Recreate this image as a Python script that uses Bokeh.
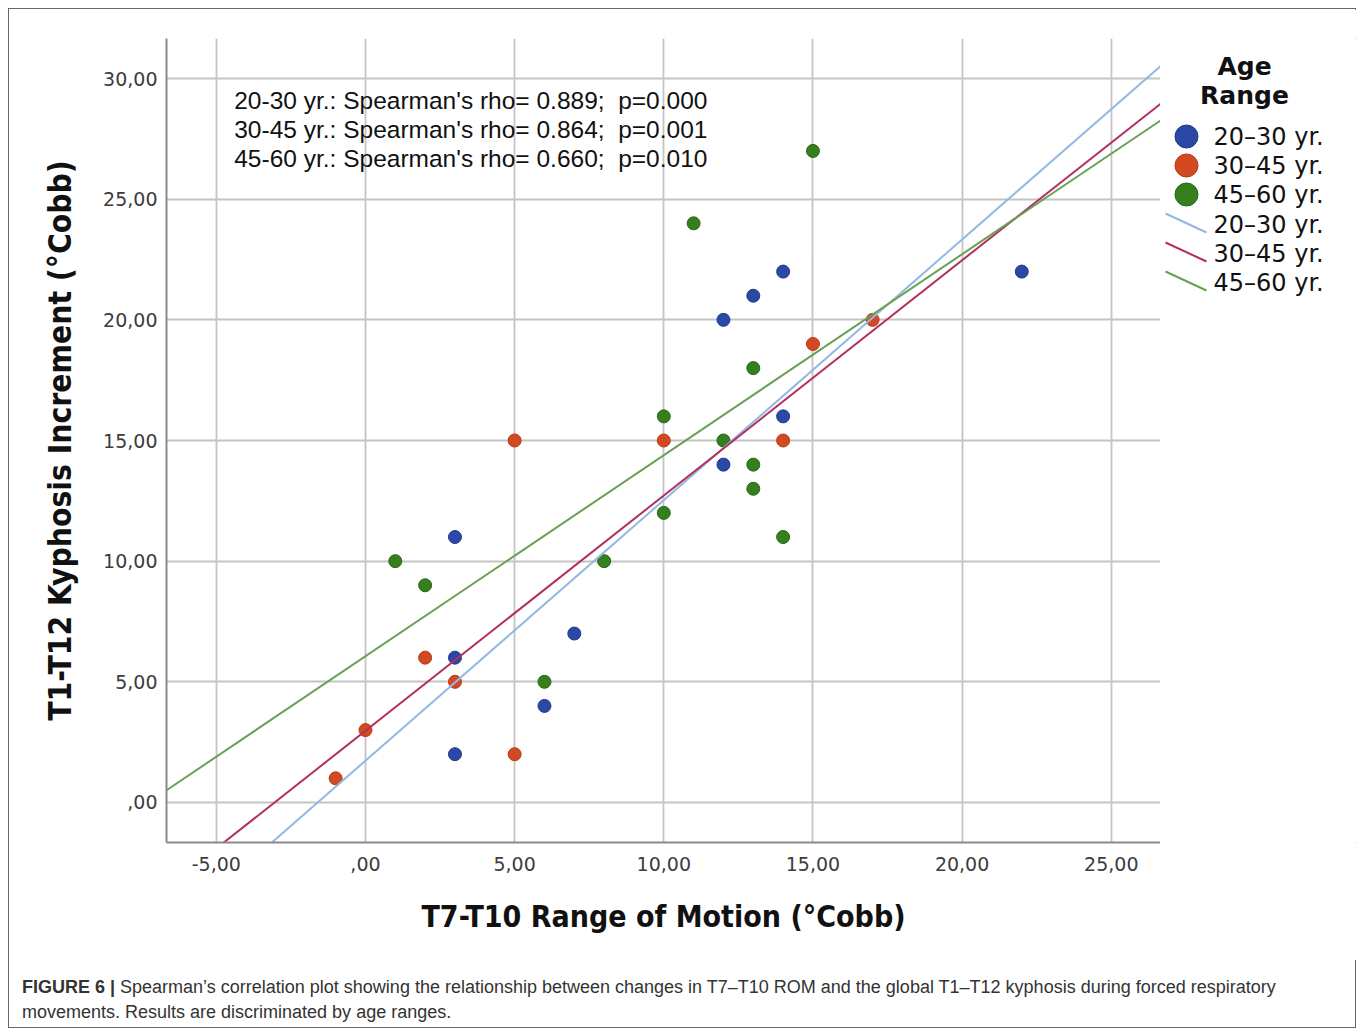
from bokeh.plotting import figure
from bokeh.models import FixedTicker, Range1d, Label, Div
from bokeh.layouts import column, row
from bokeh.core.properties import value
from bokeh.embed import file_html
from bokeh.resources import INLINE

# ---------------- data ----------------
groups = ["20-30 yr.", "30-45 yr.", "45-60 yr."]
legend_labels = ["20\u201330 yr.", "30\u201345 yr.", "45\u201360 yr."]

blue_x = [3, 3, 3, 6, 7, 12, 12, 13, 14, 14, 22]
blue_y = [11, 6, 2, 4, 7, 20, 14, 21, 22, 16, 22]
red_x = [-1, 0, 2, 3, 5, 5, 10, 14, 15, 17]
red_y = [1, 3, 6, 5, 15, 2, 15, 15, 19, 20]
green_x = [1, 2, 6, 8, 10, 10, 11, 12, 13, 13, 13, 14, 15]
green_y = [10, 9, 5, 10, 16, 12, 24, 15, 18, 14, 13, 11, 27]

fit_slope = [1.08, 0.975, 0.833]
fit_intercept = [1.73, 2.97, 6.06]

rho_values = ["0.889", "0.864", "0.660"]
p_values = ["0.000", "0.001", "0.010"]

x_ticks = [-5, 0, 5, 10, 15, 20, 25]
x_tick_labels = ["-5,00", ",00", "5,00", "10,00", "15,00", "20,00", "25,00"]
y_ticks = [0, 5, 10, 15, 20, 25, 30]
y_tick_labels = [",00", "5,00", "10,00", "15,00", "20,00", "25,00", "30,00"]

x_label = "T7-T10 Range of Motion (\u00b0Cobb)"
y_label = "T1-T12 Kyphosis Increment (\u00b0Cobb)"
caption_bold = "FIGURE 6 |"
caption_line1 = ("Spearman\u2019s correlation plot showing the relationship between changes in "
                 "T7\u2013T10 ROM and the global T1\u2013T12 kyphosis during forced respiratory")
caption_line2 = "movements. Results are discriminated by age ranges."

# ---------------- styles ----------------
point_fill = ["#2c48a6", "#d24a22", "#35801c"]
point_line = ["#22398a", "#b53a16", "#286616"]
fit_color = ["#93b8e3", "#b3305c", "#6aa052"]

X0, X1 = -6.67, 26.65
Y0, Y1 = -1.66, 31.66

p = figure(width=1151, height=951, x_range=Range1d(X0, X1), y_range=Range1d(Y0, Y1),
           output_backend="svg", toolbar_location=None,
           min_border_left=157, min_border_right=0, min_border_top=29, min_border_bottom=118)
p.outline_line_color = None
p.background_fill_color = "white"
p.border_fill_color = "white"

for ax, ticks, labels in ((p.xaxis[0], x_ticks, x_tick_labels), (p.yaxis[0], y_ticks, y_tick_labels)):
    ax.ticker = FixedTicker(ticks=ticks)
    ax.major_label_overrides = {t: l for t, l in zip(ticks, labels)}
    ax.major_tick_line_color = None
    ax.minor_tick_line_color = None
    ax.axis_line_color = "#8a8a8a"
    ax.axis_line_width = 2
    ax.major_label_text_font = "DejaVu Sans"
    ax.major_label_text_font_size = "19px"
    ax.major_label_text_color = "#3c3c3c"
    ax.axis_label_text_font = "DejaVu Sans Condensed"
    ax.axis_label_text_font_style = "bold"
    ax.axis_label_text_color = "#111111"

p.xaxis.axis_label = x_label
p.yaxis.axis_label = y_label
p.xaxis.axis_label_text_font_size = "30px"
p.yaxis.axis_label_text_font_size = "31.5px"
p.xaxis.major_label_standoff = 8
p.yaxis.major_label_standoff = 3
p.xaxis.axis_label_standoff = 25
p.yaxis.axis_label_standoff = 22

p.xgrid.ticker = FixedTicker(ticks=x_ticks)
p.ygrid.ticker = FixedTicker(ticks=y_ticks)
for g in (p.xgrid[0], p.ygrid[0]):
    g.grid_line_color = "#c4c4c4"
    g.grid_line_width = 1.8

series = [(blue_x, blue_y), (red_x, red_y), (green_x, green_y)]
for i, (xs, ys) in enumerate(series):
    p.scatter(xs, ys, size=13, fill_color=point_fill[i], line_color=point_line[i], line_width=1)

fit_x = [X0 - 2, X1 + 2]
for i in range(3):
    p.line(fit_x, [fit_intercept[i] + fit_slope[i] * x for x in fit_x],
           line_color=fit_color[i], line_width=2)

ann_y = [29.08, 27.9, 26.68]
for i in range(3):
    p.add_layout(Label(x=-4.4, y=ann_y[i],
                       text=f"{groups[i]}: Spearman's rho= {rho_values[i]};\u00a0 p={p_values[i]}",
                       text_font="Liberation Sans", text_font_size="24.5px",
                       text_color="#111111", text_baseline="middle"))

# ---------------- legend panel (page-pixel coordinates of the frame) ----------------
leg = figure(width=197, height=951, x_range=Range1d(1160, 1357), y_range=Range1d(842, 38),
             output_backend="svg", toolbar_location=None,
             min_border_left=0, min_border_right=0, min_border_top=29, min_border_bottom=118)
leg.axis.visible = False
leg.grid.visible = False
leg.outline_line_color = None
leg.border_fill_color = "white"

leg.text(x=[1244, 1244], y=[66, 95], text=["Age", "Range"], text_font=value("DejaVu Sans"),
         text_font_style="bold", text_font_size="25px", text_align="center",
         text_baseline="middle", text_color="#111111")
leg_marker_y = [136, 165, 194]
leg.scatter(x=[1186] * 3, y=leg_marker_y, size=23, fill_color=point_fill, line_color=point_line)
leg_line_y = [213, 242, 271]
leg.segment(x0=[1165] * 3, y0=leg_line_y, x1=[1206] * 3, y1=[v + 19 for v in leg_line_y],
            line_color=fit_color, line_width=2)
leg.text(x=[1213] * 6, y=[136, 165, 194, 224, 253, 282], text=legend_labels + legend_labels,
         text_font=value("DejaVu Sans"), text_font_size="24px", text_baseline="middle",
         text_color="#111111")

cap = Div(text=(f'<div style="font-family:\'Liberation Sans\',Arial,sans-serif;font-size:18px;'
                f'color:#333;line-height:25px;padding:10px 0 0 8px;white-space:nowrap">'
                f'<b>{caption_bold}</b> {caption_line1}<br>{caption_line2}</div>'),
          width=1348, height=69)

layout = column(row(p, leg), cap, width=1348, height=1020,
                styles={"border": "1px solid #666", "background": "white",
                        "margin": "8px 0 0 8px"})

open("out.html", "w").write(file_html(layout, INLINE))
